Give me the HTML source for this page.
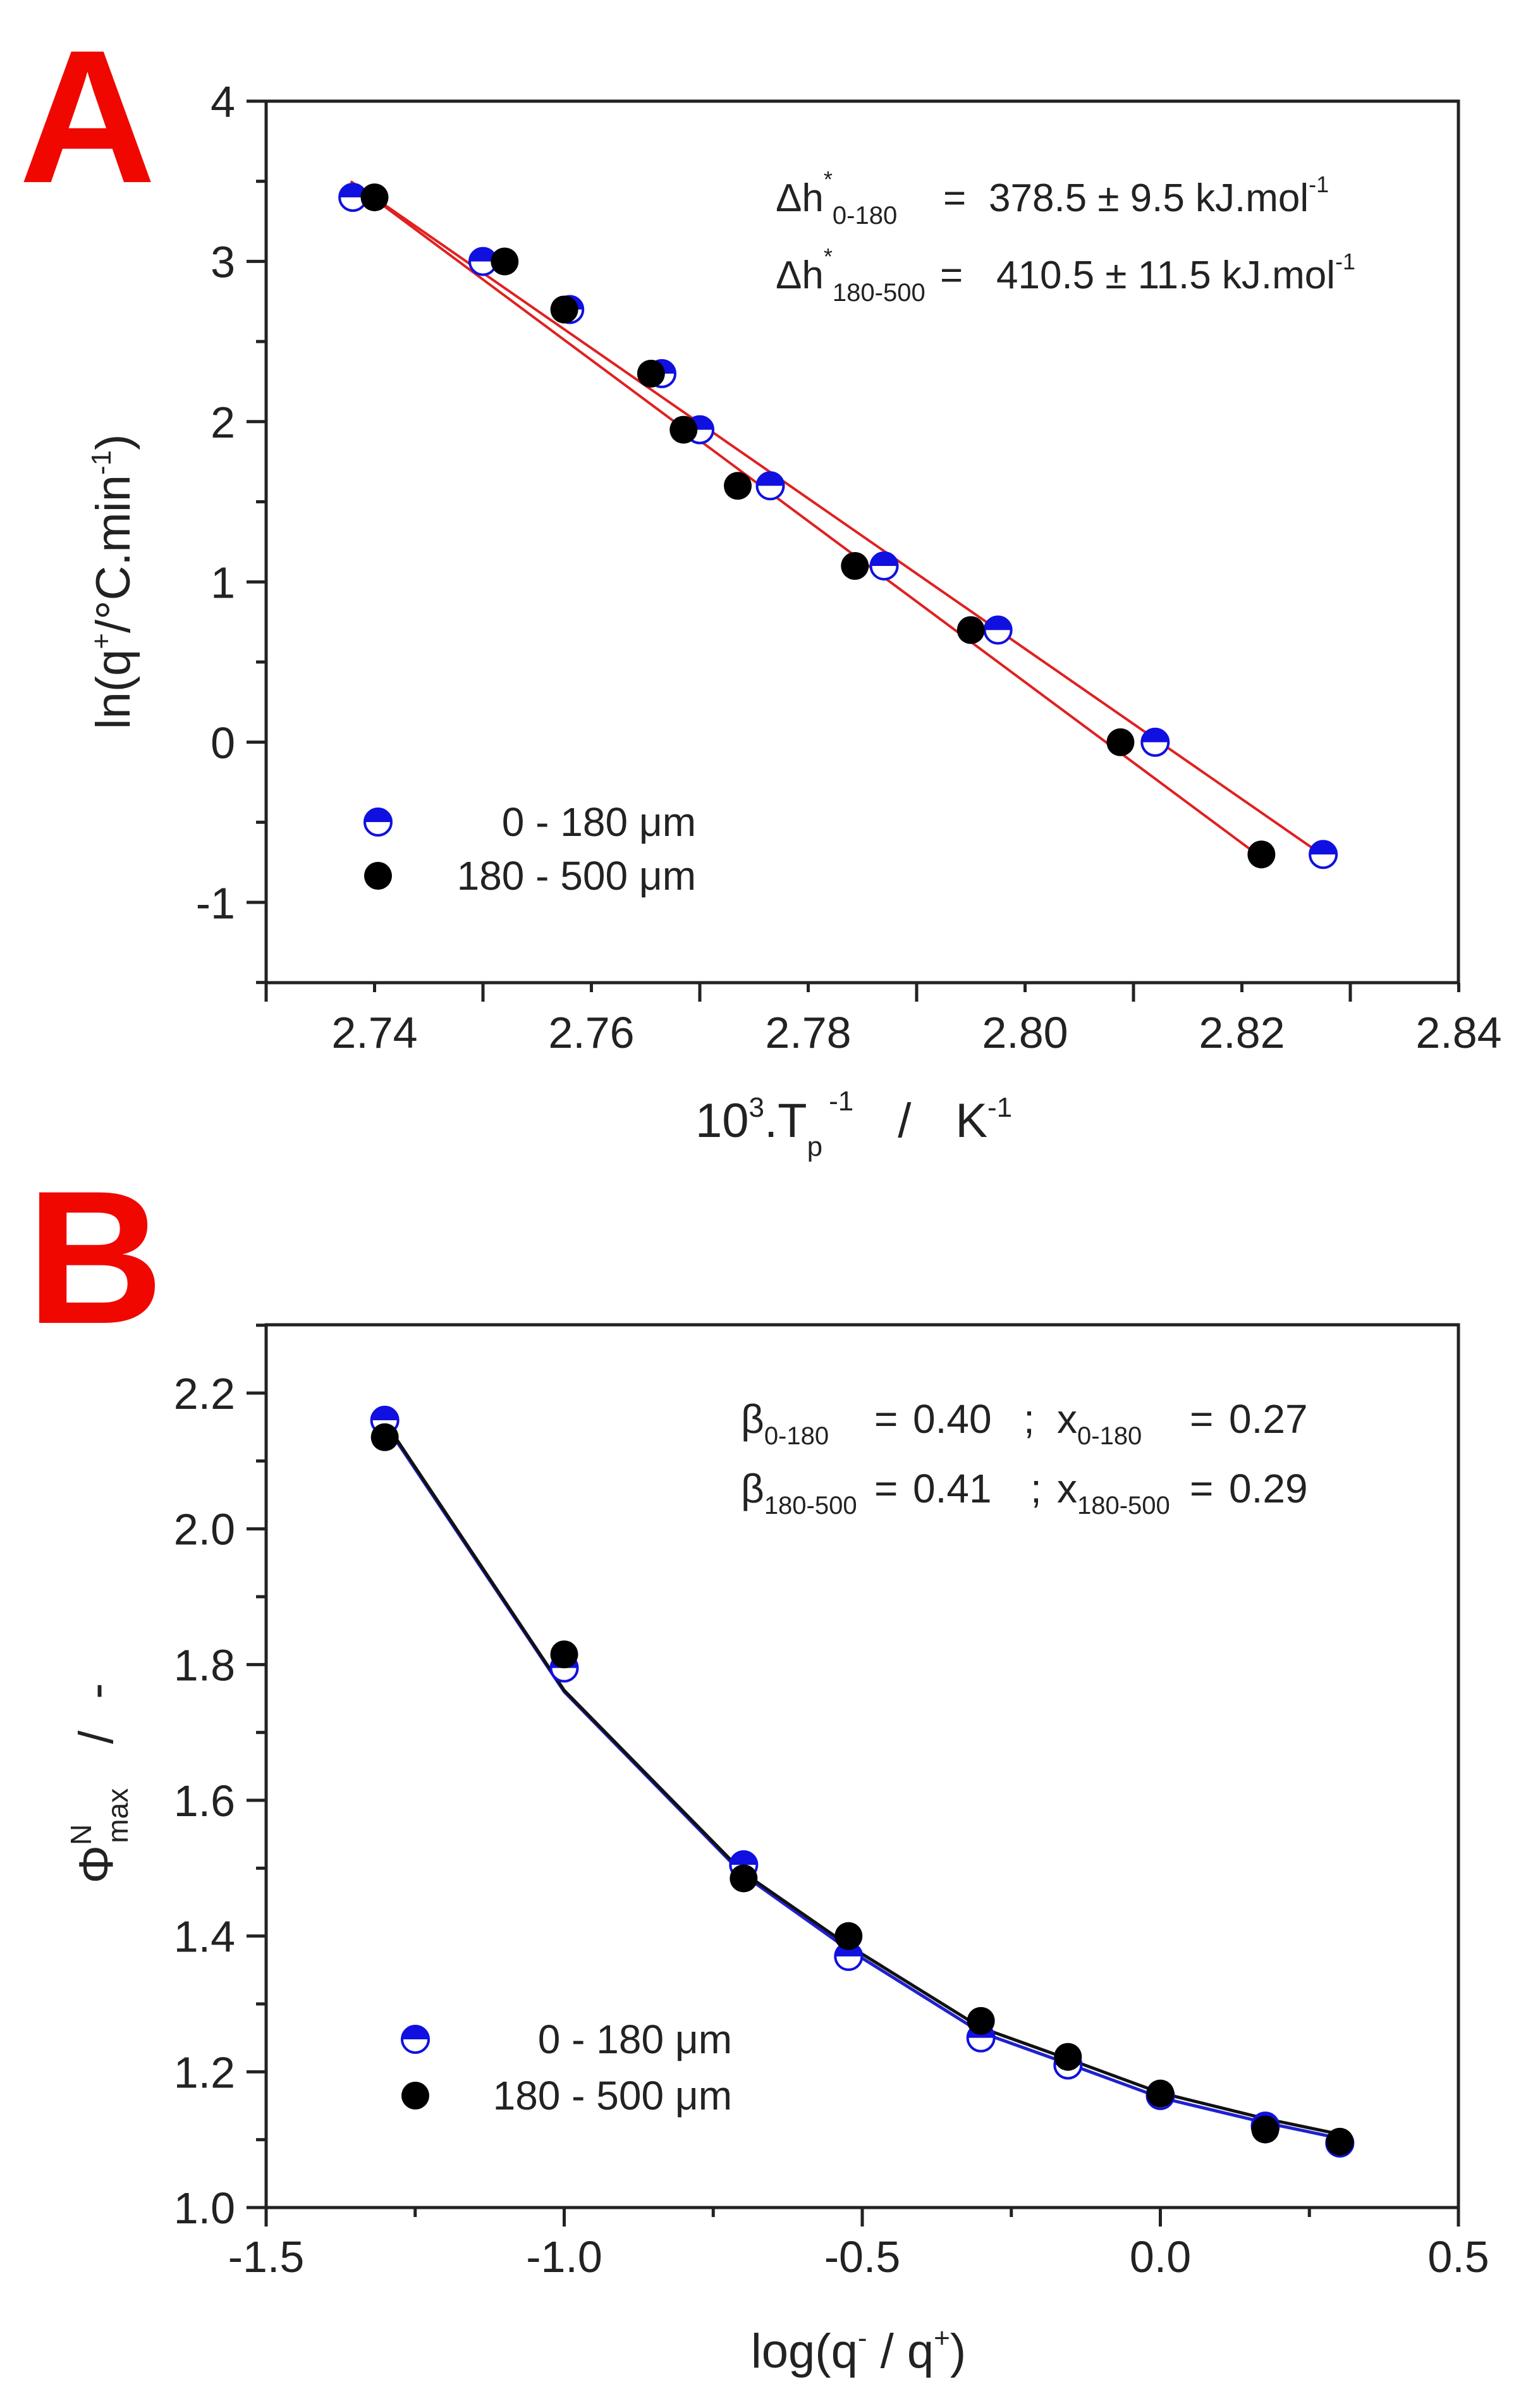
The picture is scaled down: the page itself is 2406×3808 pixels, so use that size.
<!DOCTYPE html>
<html><head><meta charset="utf-8"><style>
html,body{margin:0;padding:0;background:#fff;}
svg{display:block;font-family:"Liberation Sans",Arial,sans-serif;}
</style></head><body>
<svg id="s" width="2406" height="3808" viewBox="0 0 2406 3808" xmlns="http://www.w3.org/2000/svg">
<rect width="2406" height="3808" fill="#fff"/>
<text x="30" y="288" font-size="300" font-weight="bold" fill="#f00800">A</text>
<text x="42" y="2092" font-size="300" font-weight="bold" fill="#f00800">B</text>
<rect x="421" y="160" width="1886" height="1394" fill="none" stroke="#222" stroke-width="5"/>
<rect x="421" y="2095" width="1886" height="1396" fill="none" stroke="#222" stroke-width="5"/>
<g id="g"></g>
<!-- A annotations -->
<text x="1227" y="334" font-size="62" fill="#222">Δh<tspan dy="-38" font-size="36">*</tspan><tspan dy="58" font-size="40">0-180</tspan><tspan dy="-20" x="1492">=</tspan><tspan x="1564">378.5 ± 9.5 kJ.mol</tspan><tspan dy="-30" font-size="36">-1</tspan></text>
<text x="1227" y="456" font-size="62" fill="#222">Δh<tspan dy="-38" font-size="36">*</tspan><tspan dy="58" font-size="40">180-500</tspan><tspan dy="-20" x="1487">=</tspan><tspan x="1576">410.5 ± 11.5 kJ.mol</tspan><tspan dy="-30" font-size="36">-1</tspan></text>
<text x="1101" y="1322" font-size="64" text-anchor="end" fill="#222">0 - 180 μm</text>
<text x="1101" y="1407" font-size="64" text-anchor="end" fill="#222">180 - 500 μm</text>
<text transform="translate(205,920) rotate(-90)" font-size="76" text-anchor="middle" fill="#222">ln(q<tspan dy="-30" font-size="44">+</tspan><tspan dy="30">/°C.min</tspan><tspan dy="-30" font-size="44">-1</tspan><tspan dy="30">)</tspan></text>
<text x="1100" y="1798" font-size="76" fill="#222">10<tspan dy="-32" font-size="44">3</tspan><tspan dy="32">.T</tspan><tspan dy="30" font-size="44">p</tspan><tspan dy="-72" font-size="44" dx="10">-1</tspan><tspan dy="42" dx="70">/</tspan><tspan dx="70">K</tspan><tspan dy="-32" font-size="44">-1</tspan></text>
<!-- B annotations -->
<text x="1172" y="2266" font-size="64" fill="#222">β<tspan dy="18" font-size="40">0-180</tspan><tspan dy="-18" x="1383">=</tspan><tspan x="1444">0.40</tspan><tspan x="1619">;</tspan><tspan x="1672">x</tspan><tspan dy="18" font-size="40">0-180</tspan><tspan dy="-18" x="1882">=</tspan><tspan x="1944">0.27</tspan></text>
<text x="1172" y="2376" font-size="64" fill="#222">β<tspan dy="18" font-size="40">180-500</tspan><tspan dy="-18" x="1383">=</tspan><tspan x="1444">0.41</tspan><tspan x="1630">;</tspan><tspan x="1672">x</tspan><tspan dy="18" font-size="40">180-500</tspan><tspan dy="-18" x="1882">=</tspan><tspan x="1944">0.29</tspan></text>
<text x="1158" y="3247" font-size="64" text-anchor="end" fill="#222">0 - 180 μm</text>
<text x="1158" y="3336" font-size="64" text-anchor="end" fill="#222">180 - 500 μm</text>
<text transform="translate(178,2820) rotate(-90)" font-size="76" text-anchor="middle" fill="#222">Φ<tspan dy="-34" font-size="46">N</tspan><tspan dy="58" dx="-30" font-size="46">max</tspan><tspan dy="-24" dx="70">/</tspan><tspan dx="50">-</tspan></text>
<text x="1358" y="3744" font-size="76" text-anchor="middle" fill="#222">log(q<tspan dy="-32" font-size="44">-</tspan><tspan dy="32"> / q</tspan><tspan dy="-32" font-size="44">+</tspan><tspan dy="32">)</tspan></text>
</svg>
<script>
var g=document.getElementById('g'),h='';
function L(x1,y1,x2,y2,c,w){h+='<line x1="'+x1+'" y1="'+y1+'" x2="'+x2+'" y2="'+y2+'" stroke="'+c+'" stroke-width="'+w+'"/>';}
function T(x,y,s,a){h+='<text x="'+x+'" y="'+y+'" font-size="70" fill="#222" text-anchor="'+a+'">'+s+'</text>';}
function half(x,y,r){h+='<circle cx="'+x+'" cy="'+y+'" r="'+r+'" fill="#fff" stroke="#1010e0" stroke-width="4"/><path d="M'+(x-r)+' '+y+' A'+r+' '+r+' 0 0 1 '+(x+r)+' '+y+' Z" fill="#1010e0"/>';}
function full(x,y,r){h+='<circle cx="'+x+'" cy="'+y+'" r="'+r+'" fill="#000"/>';}
function ax(v){return 421+(v-2.73)*17150;} function ay(v){return 160+(4-v)*253.45;}
for(var i=0;i<=11;i++){var x=421+i*171.5;L(x,1554,x,i%2==0?1584:1569,'#222',5);}
[2.74,2.76,2.78,2.80,2.82,2.84].forEach(function(v){T(ax(v),1657,v.toFixed(2),'middle');});
for(var i=0;i<=11;i++){var y=160+i*126.7;L(421,y,i%2==0?390:405,y,'#222',5);}
[4,3,2,1,0,-1].forEach(function(v){T(372,ay(v)+25,v,'end');});
L(ax(2.7378),ay(3.5),ax(2.828),ay(-0.73),'#e02020',4);
L(ax(2.738),ay(3.49),ax(2.822),ay(-0.73),'#e02020',4);
var bA=[[2.738,3.4],[2.750,3.0],[2.758,2.7],[2.7665,2.3],[2.770,1.95],[2.7765,1.6],[2.787,1.1],[2.7975,0.7],[2.812,0.0],[2.8275,-0.7]];
var kA=[[2.740,3.4],[2.752,3.0],[2.7575,2.7],[2.7655,2.3],[2.7685,1.95],[2.7735,1.6],[2.7843,1.1],[2.795,0.7],[2.8088,0.0],[2.8218,-0.7]];
bA.forEach(function(p){half(ax(p[0]),ay(p[1]),21);});
kA.forEach(function(p){full(ax(p[0]),ay(p[1]),22);});
half(598,1300,21);full(598,1385,22);
function bx(v){return 421+(v+1.5)*943;} function by(v){return 3491-(v-1)*1073.3;}
for(var i=0;i<=8;i++){var x=421+i*235.75;L(x,3491,x,i%2==0?3521:3506,'#222',5);}
[-1.5,-1.0,-0.5,0.0,0.5].forEach(function(v){T(bx(v),3593,v.toFixed(1),'middle');});
for(var i=0;i<=13;i++){var v=1+i*0.1,y=by(v);L(421,y,i%2==0?390:405,y,'#222',5);}
[1.0,1.2,1.4,1.6,1.8,2.0,2.2].forEach(function(v){T(372,by(v)+25,v.toFixed(1),'end');});
var X=[-1.301,-1,-0.699,-0.523,-0.301,-0.155,0,0.176,0.301];
var fb=[2.155,1.76,1.49,1.38,1.258,1.212,1.162,1.125,1.102],fk=[2.158,1.762,1.493,1.386,1.265,1.219,1.169,1.131,1.108];
function poly(f,c){var d='';X.forEach(function(x,i){d+=(i?'L':'M')+bx(x)+' '+by(f[i]);});h+='<path d="'+d+'" fill="none" stroke="'+c+'" stroke-width="5"/>';}
poly(fb,'#2020d0');poly(fk,'#111');
var yb=[2.16,1.795,1.505,1.37,1.25,1.21,1.165,1.12,1.095],yk=[2.135,1.815,1.485,1.40,1.275,1.222,1.168,1.115,1.097];
X.forEach(function(x,i){half(bx(x),by(yb[i]),21);});
X.forEach(function(x,i){full(bx(x),by(yk[i]),22);});
half(657,3225,21);full(657,3314,22);
g.innerHTML=h;
</script>
</body></html>
